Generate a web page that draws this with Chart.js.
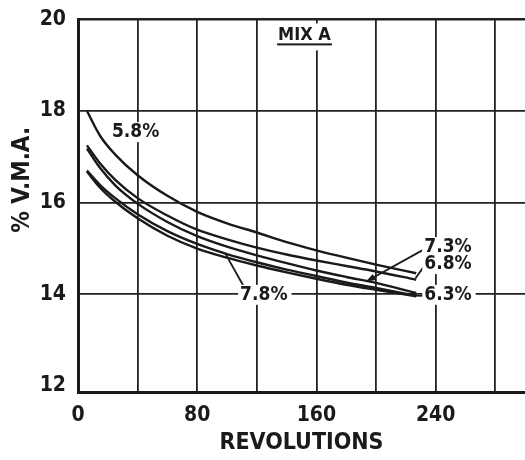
<!DOCTYPE html>
<html>
<head>
<meta charset="utf-8">
<script src="https://cdn.jsdelivr.net/npm/chart.js@4.4.1/dist/chart.umd.min.js"></script>
<style>
  body { margin: 0; background: #fff; }
  #wrap { width: 525px; height: 460px; position: relative; }
</style>
</head>
<body>
<div id="wrap"><canvas id="vmaChart"></canvas></div>
<script>
// MIX A - % V.M.A. vs gyratory revolutions

const revolutions = [6, 15, 25, 40, 60, 80, 100, 120, 140, 160, 180, 200, 227];

// one curve per asphalt content
const vma58 = [18.0, 17.45, 17.05, 16.6, 16.15, 15.8, 15.55, 15.35, 15.14, 14.96, 14.8, 14.65, 14.46];
const vma68 = [17.25, 16.85, 16.5, 16.1, 15.72, 15.41, 15.2, 15.02, 14.87, 14.74, 14.62, 14.5, 14.32];
const vma73 = [17.18, 16.75, 16.38, 15.98, 15.58, 15.27, 15.04, 14.85, 14.68, 14.52, 14.38, 14.25, 14.03];
const vma63 = [16.7, 16.38, 16.1, 15.75, 15.38, 15.1, 14.88, 14.7, 14.54, 14.4, 14.26, 14.14, 13.97];
const vma78 = [16.68, 16.32, 16.02, 15.66, 15.28, 15.0, 14.8, 14.63, 14.48, 14.34, 14.21, 14.1, 13.96];

const xTicks = [0, 40, 80, 120, 160, 200, 240, 280];
const yTicks = [12, 14, 16, 18, 20];

// curve labels (data coords) and their leader lines
const noteText = ['5.8%', '7.3%', '6.8%', '6.3%', '7.8%'];
const noteX = [22.8, 232.4, 232.4, 232.4, 108.8];
const noteY = [17.54, 15.03, 14.66, 13.99, 13.99];
const leaders = [
  [231, 14.96, 193.4, 14.28, true],
  [232, 14.6, 226.5, 14.35, false],
  [232, 13.97, 226, 13.97, false],
  [110.8, 14.2, 98.7, 14.9, false]
];

const FONT = "'DejaVu Sans Condensed', 'Liberation Sans', Arial, sans-serif";
const INK = '#1a1a1a';

const series = [vma58, vma68, vma73, vma63, vma78];
const labels = ['5.8%', '6.8%', '7.3%', '6.3%', '7.8%'];

const datasets = series.map((vals, i) => ({
  label: labels[i],
  data: vals.map((v, j) => ({ x: revolutions[j], y: v })),
  borderColor: INK,
  borderWidth: 2.4,
  pointRadius: 0,
  fill: false,
  cubicInterpolationMode: 'monotone'
}));

const notesPlugin = {
  id: 'notes',
  afterDatasetsDraw(chart) {
    const ctx = chart.ctx;
    const xs = chart.scales.x, ys = chart.scales.y;
    ctx.save();
    ctx.strokeStyle = INK;
    ctx.fillStyle = INK;
    ctx.lineWidth = 1.8;
    leaders.forEach(l => {
      const x1 = xs.getPixelForValue(l[0]), y1 = ys.getPixelForValue(l[1]);
      const x2 = xs.getPixelForValue(l[2]), y2 = ys.getPixelForValue(l[3]);
      ctx.beginPath();
      ctx.moveTo(x1, y1);
      ctx.lineTo(x2, y2);
      ctx.stroke();
      if (l[4]) {
        const a = Math.atan2(y2 - y1, x2 - x1);
        ctx.beginPath();
        ctx.moveTo(x2, y2);
        ctx.lineTo(x2 - 10 * Math.cos(a - 0.35), y2 - 10 * Math.sin(a - 0.35));
        ctx.lineTo(x2 - 10 * Math.cos(a + 0.35), y2 - 10 * Math.sin(a + 0.35));
        ctx.closePath();
        ctx.fill();
      }
    });

    ctx.font = 'bold 19px ' + FONT;
    ctx.textBaseline = 'middle';
    ctx.textAlign = 'left';
    noteText.forEach((t, i) => {
      const px = xs.getPixelForValue(noteX[i]);
      const py = ys.getPixelForValue(noteY[i]);
      const w = ctx.measureText(t).width;
      ctx.fillStyle = '#fff';
      ctx.fillRect(px - 2, py - 10, w + 6, 20);
      ctx.fillStyle = INK;
      ctx.fillText(t, px, py);
    });

    // MIX A, underlined
    ctx.font = 'bold 18px ' + FONT;
    const mx = xs.getPixelForValue(134.3), my = ys.getPixelForValue(19.65);
    const mw = ctx.measureText('MIX A').width;
    ctx.fillStyle = '#fff';
    ctx.fillRect(mx - 2, my - 12, mw + 4, 27);
    ctx.fillStyle = INK;
    ctx.fillText('MIX A', mx, my);
    ctx.fillRect(mx - 1, my + 8, mw + 2, 2);

    // y axis title, set a bit above the middle as in the print
    ctx.font = 'bold 24px ' + FONT;
    ctx.textAlign = 'center';
    ctx.translate(23, ys.getPixelForValue(16.5));
    ctx.rotate(-Math.PI / 2);
    ctx.fillText('% V.M.A.', 0, 0);
    ctx.restore();
  }
};

const vmaChart = new Chart(document.getElementById('vmaChart'), {
  type: 'line',
  data: { datasets: datasets },
  options: {
    responsive: true,
    maintainAspectRatio: false,
    animation: false,
    layout: { padding: { top: 0, right: 0 } },
    plugins: { legend: { display: false }, tooltip: { enabled: false } },
    scales: {
      x: {
        type: 'linear',
        min: 0,
        max: 300,
        afterBuildTicks: s => { s.ticks = xTicks.map(v => ({ value: v })); },
        afterFit: s => { s.height = 68; },
        grid: { color: '#222', lineWidth: 1.8, drawTicks: false },
        border: { color: INK, width: 3 },
        ticks: {
          padding: 11,
          color: INK,
          maxRotation: 0,
          autoSkip: false,
          font: { family: FONT, size: 21, weight: 'bold' },
          callback: v => (v % 80 === 0 ? String(v) : '')
        },
        title: {
          display: true,
          text: 'REVOLUTIONS',
          color: INK,
          padding: { top: 0, bottom: 3 },
          font: { family: FONT, size: 23, weight: 'bold' }
        }
      },
      y: {
        min: 11.87,
        max: 20,
        afterBuildTicks: s => { s.ticks = yTicks.map(v => ({ value: v })); },
        afterFit: s => { s.width = 78; },
        grid: {
          color: ctx => (ctx.tick && ctx.tick.value === 12 ? 'rgba(0,0,0,0)' : '#222'),
          lineWidth: ctx => (ctx.tick && ctx.tick.value === 20 ? 2.6 : 1.8),
          drawTicks: false
        },
        border: { color: INK, width: 3 },
        ticks: {
          padding: 12,
          color: INK,
          font: { family: FONT, size: 21, weight: 'bold', lineHeight: 0.7 }
        }
      }
    }
  },
  plugins: [notesPlugin]
});
</script>
</body>
</html>
